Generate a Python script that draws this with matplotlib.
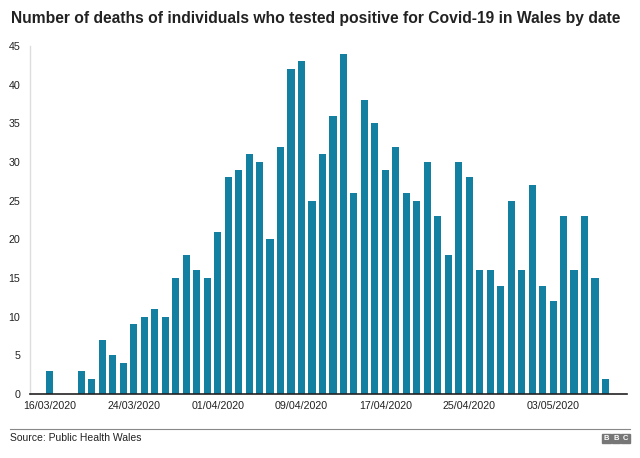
import datetime as dt
import matplotlib
matplotlib.use("Agg")
import matplotlib.pyplot as plt
import matplotlib.dates as mdates
from matplotlib.patches import Rectangle

plt.rcParams['font.family'] = ['Liberation Sans', 'DejaVu Sans']

# daily deaths from 16/03/2020 to 08/05/2020
start_date = dt.datetime(2020, 3, 16)
deaths = [3, 0, 0, 3, 2, 7, 5, 4, 9, 10, 11, 10, 15, 18, 16, 15,
          21, 28, 29, 31, 30, 20, 32, 42, 43, 25, 31, 36, 44, 26, 38, 35,
          29, 32, 26, 25, 30, 23, 18, 30, 28, 16, 16, 14, 25, 16, 27, 14,
          12, 23, 16, 23, 15, 2]
dates = [start_date + dt.timedelta(days=i) for i in range(len(deaths))]
tick_dates = [dt.datetime(2020, 3, 16), dt.datetime(2020, 3, 24), dt.datetime(2020, 4, 1),
              dt.datetime(2020, 4, 9), dt.datetime(2020, 4, 17), dt.datetime(2020, 4, 25),
              dt.datetime(2020, 5, 3)]
y_ticks = [0, 5, 10, 15, 20, 25, 30, 35, 40, 45]

title = "Number of deaths of individuals who tested positive for Covid-19 in Wales by date"
source = "Source: Public Health Wales"

fig = plt.figure(figsize=(6.4, 4.58), dpi=100)
ax = fig.add_axes([30 / 640, 64 / 458, 597 / 640, 348 / 458])

ax.bar(dates, deaths, width=0.68, color="#1380a1", zorder=2)

x0 = mdates.date2num(start_date)
ax.set_xlim(x0 - 1.9, x0 + 55.05)
ax.set_ylim(0, 45)
ax.set_yticks(y_ticks)
ax.set_xticks(tick_dates)
ax.xaxis.set_major_formatter(mdates.DateFormatter("%d/%m/%Y"))

ax.tick_params(axis='both', length=0, labelsize=7.7, colors="#222222")
ax.tick_params(axis='x', pad=5)
ax.tick_params(axis='y', pad=7)

for s in ['top', 'right']:
    ax.spines[s].set_visible(False)
ax.spines['left'].set_color("#dddddd")
ax.spines['left'].set_linewidth(1)
ax.spines['bottom'].set_color("#222222")
ax.spines['bottom'].set_linewidth(1.2)
ax.spines['bottom'].set_zorder(3)

fig.text(11 / 640, 1 - 19 / 458, title, fontsize=11.25, fontweight='bold',
         va='center', ha='left', color="#222222")

# footer
fig.add_artist(plt.Line2D([10 / 640, 630 / 640], [1 - 429 / 458, 1 - 429 / 458],
                          color="#888888", linewidth=0.8))
fig.text(10 / 640, 1 - 438 / 458, source, fontsize=7.5, va='center', ha='left',
         color="#222222")

# BBC blocks
for i, letter in enumerate("BBC"):
    bx = 602 + i * 9.5
    fig.add_artist(Rectangle((bx / 640, 1 - 443 / 458), 8.5 / 640, 9 / 458,
                             transform=fig.transFigure, color="#777777"))
    fig.text((bx + 4.25) / 640, 1 - 438.5 / 458, letter, fontsize=5.5,
             fontweight='bold', color="white", ha='center', va='center')

fig.savefig("out.png", dpi=100)
